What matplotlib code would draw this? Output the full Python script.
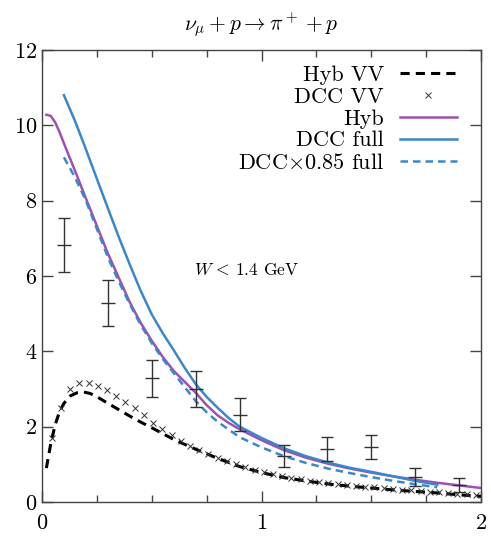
import matplotlib
matplotlib.use("Agg")
import matplotlib.pyplot as plt
from matplotlib.ticker import MultipleLocator

plt.rcParams["font.family"] = "serif"
plt.rcParams["font.serif"] = ["cmr10"]
plt.rcParams["mathtext.fontset"] = "cm"
plt.rcParams["axes.formatter.use_mathtext"] = True

# --- datos ---
# datos experimentales
x_exp = [0.1, 0.3, 0.5, 0.7, 0.9, 1.1, 1.3, 1.5, 1.7, 1.9]
y_exp = [6.82, 5.28, 3.28, 3.0, 2.32, 1.22, 1.41, 1.46, 0.66, 0.46]
err_exp = [0.72, 0.62, 0.5, 0.48, 0.44, 0.3, 0.32, 0.33, 0.23, 0.19]

# Hyb VV (negro discontinuo)
x_hybvv = [0.02, 0.04, 0.06, 0.08, 0.10, 0.13, 0.16, 0.19, 0.22, 0.26, 0.30,
           0.35, 0.40, 0.45, 0.50, 0.60, 0.70, 0.80, 0.90, 1.00, 1.10, 1.20,
           1.30, 1.40, 1.50, 1.60, 1.70, 1.80, 1.90, 2.00]
y_hybvv = [0.9, 1.55, 2.05, 2.4, 2.62, 2.82, 2.9, 2.92, 2.88, 2.76, 2.62,
           2.45, 2.28, 2.12, 1.97, 1.66, 1.4, 1.16, 0.94, 0.78, 0.65, 0.56,
           0.48, 0.42, 0.37, 0.32, 0.28, 0.24, 0.19, 0.15]

# DCC VV (cruces)
x_dccvv = [0.044, 0.086, 0.128, 0.17, 0.212, 0.254, 0.296, 0.338, 0.38, 0.422,
           0.464, 0.506, 0.548, 0.59, 0.632, 0.674, 0.716, 0.758, 0.80, 0.842,
           0.884, 0.926, 0.968, 1.01, 1.052, 1.094, 1.136, 1.178, 1.22, 1.262,
           1.304, 1.346, 1.388, 1.43, 1.472, 1.514, 1.556, 1.598, 1.64, 1.682,
           1.724, 1.766, 1.808, 1.85, 1.892, 1.934, 1.976]
y_dccvv = [1.7, 2.5, 3.0, 3.17, 3.17, 3.08, 2.98, 2.82, 2.66, 2.49,
           2.3, 2.11, 1.94, 1.77, 1.62, 1.49, 1.37, 1.27, 1.17, 1.08,
           1.0, 0.93, 0.86, 0.8, 0.74, 0.69, 0.65, 0.61, 0.57, 0.54,
           0.51, 0.48, 0.45, 0.43, 0.41, 0.39, 0.37, 0.35, 0.33, 0.31,
           0.29, 0.27, 0.26, 0.24, 0.22, 0.21, 0.19]

# Hyb (morado)
x_hyb = [0.02, 0.04, 0.06, 0.08, 0.10, 0.15, 0.20, 0.25, 0.30, 0.35, 0.40,
         0.45, 0.50, 0.55, 0.60, 0.70, 0.75, 0.80, 0.85, 0.90, 1.00, 1.10,
         1.20, 1.30, 1.40, 1.50, 1.60, 1.70, 1.80, 1.90, 2.00]
y_hyb = [10.28, 10.25, 10.08, 9.82, 9.52, 8.8, 8.06, 7.33, 6.6, 5.95, 5.3,
         4.75, 4.28, 3.85, 3.48, 2.9, 2.57, 2.3, 2.1, 1.93, 1.64, 1.38,
         1.18, 1.02, 0.89, 0.78, 0.68, 0.59, 0.51, 0.44, 0.37]

# DCC full (azul continuo)
x_dcc = [0.10, 0.15, 0.19, 0.25, 0.30, 0.35, 0.40, 0.45, 0.50, 0.55, 0.60,
         0.65, 0.70, 0.75, 0.80, 0.85, 0.90, 1.00, 1.10, 1.20, 1.30, 1.40,
         1.50, 1.60, 1.70, 1.80]
y_dcc = [10.8, 10.12, 9.52, 8.58, 7.8, 7.03, 6.3, 5.6, 4.98, 4.48, 4.03,
         3.56, 3.13, 2.79, 2.5, 2.23, 2.0, 1.7, 1.43, 1.22, 1.05, 0.91,
         0.8, 0.68, 0.56, 0.46]

# DCCx0.85 full (azul discontinuo)
x_dcc85 = [0.10, 0.15, 0.20, 0.25, 0.30, 0.35, 0.40, 0.45, 0.50, 0.55, 0.60,
           0.65, 0.70, 0.75, 0.80, 0.90, 1.00, 1.10, 1.20, 1.30, 1.40, 1.50,
           1.60, 1.70, 1.80]
y_dcc85 = [9.15, 8.62, 8.0, 7.25, 6.5, 5.85, 5.25, 4.7, 4.22, 3.8, 3.42,
           3.05, 2.68, 2.38, 2.13, 1.72, 1.45, 1.22, 1.04, 0.89, 0.77, 0.66,
           0.56, 0.47, 0.39]

purple = "#a04fb3"
blue = "#3a87c9"

fig = plt.figure(figsize=(4.91, 5.40), dpi=100)
ax = fig.add_axes([0.0855, 0.0704, 0.8945, 0.837])

ax.plot(x_hybvv, y_hybvv, color="black", lw=2.2, ls=(0, (3, 2)), label="Hyb VV")
ax.plot(x_dccvv, y_dccvv, ls="none", marker="x", ms=5, mew=0.7,
        color="#333333", label="DCC VV")
ax.plot(x_hyb, y_hyb, color=purple, lw=1.8, label="Hyb")
ax.plot(x_dcc, y_dcc, color=blue, lw=1.8, label="DCC full")
ax.plot(x_dcc85, y_dcc85, color=blue, lw=1.8, ls=(0, (3, 2)),
        label=r"DCC$\times$0.85 full")
ax.errorbar(x_exp, y_exp, yerr=err_exp, fmt="_", ms=10, mew=1.0,
            color="#333333", ecolor="#333333", elinewidth=1.0, capsize=4,
            capthick=1.0)

ax.text(0.93, 6.15, r"$W\,<\,1.4$ GeV", fontsize=12.5, ha="center", va="center")

ax.set_xlim(0, 2)
ax.set_ylim(0, 12)
ax.xaxis.set_major_locator(MultipleLocator(1))
ax.xaxis.set_minor_locator(MultipleLocator(0.25))
ax.yaxis.set_major_locator(MultipleLocator(2))
ax.tick_params(which="both", direction="in", top=True, right=True,
               labelsize=16, color="#444444")
ax.tick_params(which="major", length=8, width=1)
ax.tick_params(which="minor", length=5, width=1)
ax.tick_params(axis="x", pad=8)
for s in ax.spines.values():
    s.set_color("#444444")
    s.set_linewidth(1)

ax.set_title(r"$\nu_\mu + p \rightarrow \pi^+ + p$", fontsize=15.5, pad=14)

ax.legend(loc="upper right", bbox_to_anchor=(0.981, 1.0), frameon=False,
          markerfirst=False, fontsize=16, handlelength=2.6, labelspacing=0.1,
          borderaxespad=0.3, handletextpad=0.7)

fig.savefig("out.png", dpi=100)
